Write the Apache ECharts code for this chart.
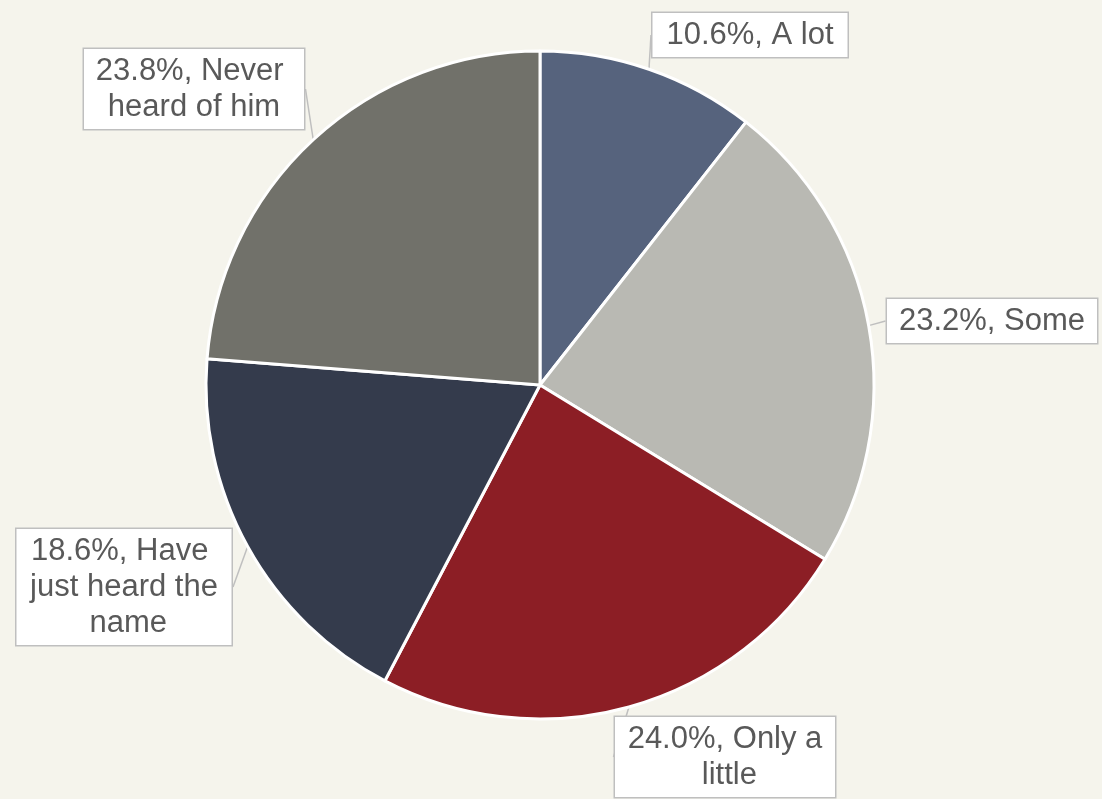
<!DOCTYPE html>
<html>
<head>
<meta charset="utf-8">
<script src="https://cdn.jsdelivr.net/npm/echarts@6/dist/echarts.min.js"></script>
<style>
  html, body { margin: 0; padding: 0; background: #F5F4EC; }
  #main { width: 1102px; height: 799px; }
</style>
</head>
<body>
<div id="main"></div>
<script>
// 数据
var names = ['A lot', 'Some', 'Only a little', 'Have just heard the name', 'Never heard of him'];
var values = [10.6, 23.2, 24.0, 18.6, 23.8];
var colors = ['#56637D', '#B9B9B3', '#8C1E25', '#343B4C', '#71716A'];

// 标签框位置(中心点)和换行宽度
var labelPos = [[750, 35], [992, 321], [725, 757], [124, 587], [194, 89]];
var labelWidth = [175, 190, 200, 195, 200];

var myChart = echarts.init(document.getElementById('main'));

var data = names.map(function (n, i) {
    return {
        name: n,
        value: values[i],
        itemStyle: { color: colors[i] },
        label: { width: labelWidth[i], overflow: 'break' }
    };
});

var option = {
    backgroundColor: '#F5F4EC',
    animation: false,
    series: [{
        type: 'pie',
        center: [540, 385],
        radius: 334,
        startAngle: 90,
        clockwise: true,
        silent: true,
        itemStyle: {
            borderColor: '#ffffff',
            borderWidth: 3
        },
        label: {
            show: true,
            position: 'outside',
            formatter: function (p) {
                return p.value.toFixed(1) + '%, ' + p.name;
            },
            fontFamily: 'Liberation Sans, Arial, sans-serif',
            fontSize: 31,
            lineHeight: 36,
            color: '#595959',
            backgroundColor: '#ffffff',
            borderColor: '#BFBFBF',
            borderWidth: 1.5,
            padding: [4, 10]
        },
        labelLine: {
            show: true,
            length: 8,
            length2: 0,
            lineStyle: { color: '#BFBFBF', width: 1.5 }
        },
        labelLayout: function (params) {
            var pos = labelPos[params.dataIndex];
            return { x: pos[0], y: pos[1], align: 'center', verticalAlign: 'middle' };
        },
        data: data
    }]
};

myChart.setOption(option);
window.addEventListener('resize', function () {
    myChart.resize();
});
</script>
</body>
</html>
